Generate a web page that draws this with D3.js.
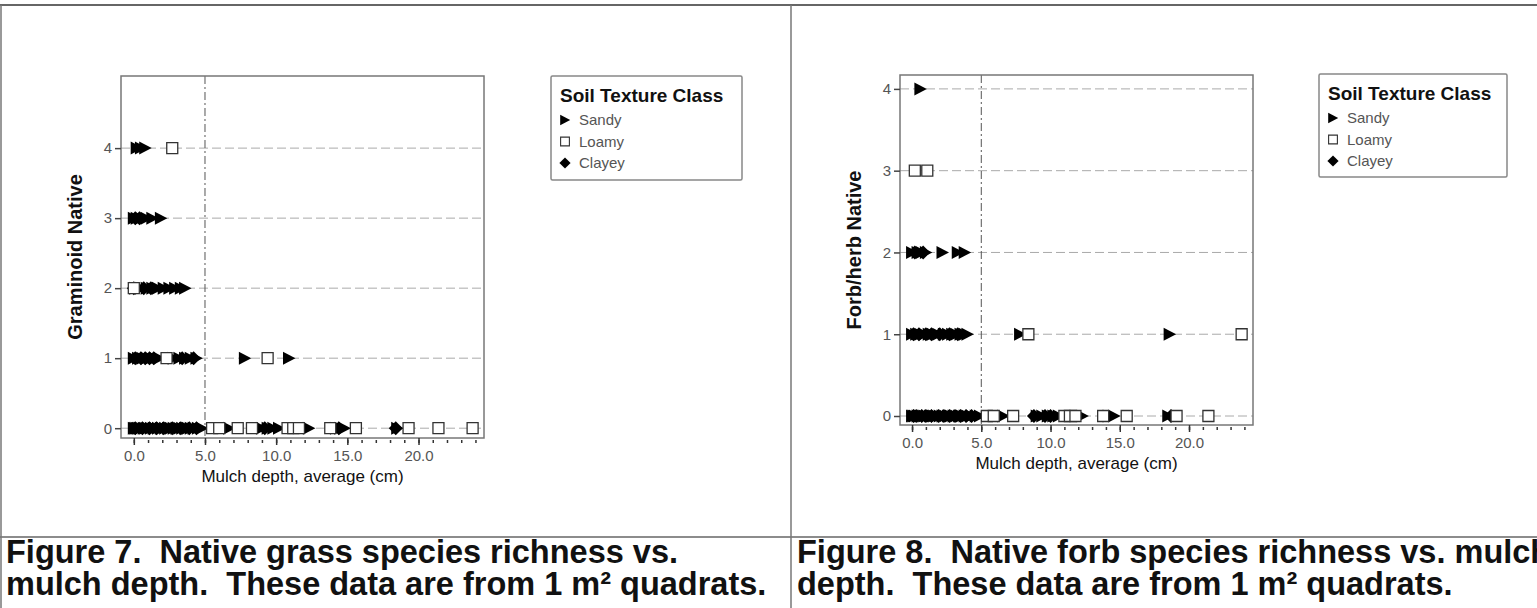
<!DOCTYPE html>
<html>
<head>
<meta charset="utf-8">
<script src="https://cdn.jsdelivr.net/npm/d3@7/dist/d3.min.js"></script>
<style>
  body { margin: 0; background: #fff; }
  svg { display: block; }
  text { font-family: "Liberation Sans", Arial, sans-serif; white-space: pre; }
</style>
</head>
<body>
<svg width="1537" height="608"></svg>
<script>
// mulch depth (cm) per quadrat, one inner list per richness count (index 0..4)
var fig7Sandy = [
  [0.0, 0.1, 0.2, 0.3, 0.4, 0.5, 0.7, 0.8, 1.0, 1.2, 1.4, 1.5, 1.7, 1.9, 2.0, 2.2, 2.4, 2.6, 2.8, 3.0, 3.2, 3.4, 3.6, 3.8, 4.0, 4.2, 4.5, 4.8, 6.7, 9.0, 9.4, 9.8, 10.2, 12.3, 14.2, 14.5, 14.8, 18.5],
  [0.0, 0.3, 0.6, 0.9, 1.2, 1.5, 1.8, 2.8, 3.2, 3.6, 4.0, 4.4, 7.8, 10.9],
  [0.1, 0.5, 0.9, 1.3, 1.7, 2.1, 2.5, 2.9, 3.3, 3.6],
  [0.0, 0.2, 0.5, 0.9, 1.3, 1.9],
  [0.2, 0.5, 0.8]
];
var fig7Loamy = [
  [5.5, 6.0, 7.3, 8.3, 10.8, 11.2, 11.6, 13.8, 15.6, 19.3, 21.4, 23.8],
  [2.3, 9.4],
  [0.0],
  [],
  [2.7]
];
var fig7Clayey = [
  [0.1, 0.6, 1.1, 1.6, 2.1, 2.7, 3.3, 3.9, 4.4, 9.2, 14.4, 18.4],
  [0.1, 0.5, 0.8, 1.1, 1.4, 3.4, 4.2],
  [0.0, 0.7, 1.2],
  [0.1, 0.4],
  []
];

var fig8Sandy = [
  [0.0, 0.1, 0.2, 0.4, 0.5, 0.6, 0.8, 0.9, 1.1, 1.3, 1.5, 1.6, 1.8, 2.0, 2.2, 2.4, 2.6, 2.8, 3.0, 3.2, 3.4, 3.6, 3.8, 4.0, 4.3, 4.6, 4.9, 6.6, 9.0, 9.4, 9.8, 10.2, 10.6, 12.3, 14.2, 14.6, 18.5],
  [0.0, 0.3, 0.6, 0.9, 1.2, 1.5, 1.9, 2.3, 2.6, 2.9, 3.2, 3.5, 3.8, 4.0, 7.8, 18.6],
  [0.0, 0.4, 0.7, 1.0, 2.2, 3.3, 3.8],
  [],
  [0.6]
];
var fig8Loamy = [
  [5.4, 5.9, 7.3, 11.0, 11.4, 11.8, 13.8, 15.5, 19.1, 21.4],
  [8.4, 23.8],
  [],
  [0.2, 1.1],
  []
];
var fig8Clayey = [
  [0.1, 0.3, 0.7, 1.0, 1.4, 1.9, 2.3, 2.7, 3.1, 3.5, 3.9, 4.3, 8.8, 9.6, 10.0, 18.7],
  [0.1, 0.5, 1.0, 1.4, 2.0, 2.7, 3.3],
  [0.2, 0.8],
  [],
  []
];

var xTicks = [0, 5, 10, 15, 20];
var xMinorTicks = d3.range(0, 25);
var yTicks = [0, 1, 2, 3, 4];
var refMulch = 5;
var legendTitle = "Soil Texture Class";
var classNames = ["Sandy", "Loamy", "Clayey"];

var svg = d3.select("svg");

var shapes = {
  Sandy: "M-6,-6.5L6.5,0L-6,6.5Z",
  Clayey: "M0,-7L7,0L0,7L-7,0Z",
  Loamy: "M-5.5,-5.5H5.5V5.5H-5.5Z"
};

function flatten(rows) {
  var out = [];
  rows.forEach(function(r, i) { r.forEach(function(v) { out.push([v, i]); }); });
  return out;
}

function drawPanel(p) {
  var x = d3.scaleLinear().domain(p.xDomain).range([p.left, p.right]);
  var y = d3.scaleLinear().domain(p.yDomain).range([p.bottom, p.top]);
  var g = svg.append("g");

  // grid
  g.selectAll(".hgrid").data(yTicks).enter().append("line")
    .attr("x1", p.left).attr("x2", p.right)
    .attr("y1", function(d) { return y(d); }).attr("y2", function(d) { return y(d); })
    .attr("stroke", "#aaa").attr("stroke-width", 1).attr("stroke-dasharray", "9,4");
  g.append("line")
    .attr("x1", x(refMulch)).attr("x2", x(refMulch))
    .attr("y1", p.top).attr("y2", p.bottom)
    .attr("stroke", "#555").attr("stroke-width", 1).attr("stroke-dasharray", "8,3,2,3");

  // frame
  g.append("rect")
    .attr("x", p.left).attr("y", p.top)
    .attr("width", p.right - p.left).attr("height", p.bottom - p.top)
    .attr("fill", "none").attr("stroke", "#777").attr("stroke-width", 1.5);

  // y axis
  var yAxis = d3.axisLeft(y).tickValues(yTicks).tickFormat(d3.format("d")).tickSize(6).tickPadding(3);
  var ya = g.append("g").attr("transform", "translate(" + p.left + ",0)").call(yAxis);
  ya.select(".domain").remove();
  ya.selectAll("line").attr("stroke", "#444").attr("stroke-width", 1.5);
  ya.selectAll("text").attr("font-size", 15).attr("fill", "#555")
    .attr("font-family", '"Liberation Sans", Arial, sans-serif');

  // x axis: minor then major ticks
  var xm = d3.axisBottom(x).tickValues(xMinorTicks).tickFormat("").tickSize(3);
  var xma = g.append("g").attr("transform", "translate(0," + (p.bottom + 2) + ")").call(xm);
  xma.select(".domain").remove();
  xma.selectAll("line").attr("stroke", "#333").attr("stroke-width", 1.5);
  var xAxis = d3.axisBottom(x).tickValues(xTicks).tickFormat(d3.format(".1f")).tickSize(7).tickPadding(5);
  var xa = g.append("g").attr("transform", "translate(0," + p.bottom + ")").call(xAxis);
  xa.select(".domain").remove();
  xa.selectAll("line").attr("stroke", "#333").attr("stroke-width", 1.5);
  xa.selectAll("text").attr("font-size", 15).attr("fill", "#555")
    .attr("font-family", '"Liberation Sans", Arial, sans-serif');

  // axis titles
  g.append("text")
    .attr("x", (p.left + p.right) / 2).attr("y", p.bottom + 44)
    .attr("text-anchor", "middle").attr("font-size", 17).attr("fill", "#111")
    .text("Mulch depth, average (cm)");
  g.append("text")
    .attr("transform", "translate(" + (p.left - 39) + "," + ((p.top + p.bottom) / 2) + ") rotate(-90)")
    .attr("text-anchor", "middle").attr("font-size", 20).attr("font-weight", "bold").attr("fill", "#111")
    .text(p.yLabel);

  // points: sandy, clayey, then loamy on top
  [["Sandy", p.sandy], ["Clayey", p.clayey], ["Loamy", p.loamy]].forEach(function(s) {
    g.selectAll(".pt" + s[0]).data(flatten(s[1])).enter().append("path")
      .attr("d", shapes[s[0]])
      .attr("transform", function(d) { return "translate(" + x(d[0]) + "," + y(d[1]) + ")"; })
      .attr("fill", s[0] === "Loamy" ? "#fff" : "#000")
      .attr("stroke", s[0] === "Loamy" ? "#333" : "none")
      .attr("stroke-width", 1.3);
  });

  // legend
  var lg = g.append("g").attr("transform", "translate(" + p.legX + "," + p.legY + ")");
  lg.append("rect").attr("width", p.legW).attr("height", p.legH)
    .attr("fill", "#fff").attr("stroke", "#888").attr("stroke-width", 1.5).attr("rx", 1.5);
  lg.append("text").attr("x", 9).attr("y", 26).attr("font-size", 19).attr("font-weight", "bold")
    .attr("fill", "#111").text(legendTitle);
  classNames.forEach(function(c, i) {
    var cy = 44 + i * 21.5;
    lg.append("path").attr("d", shapes[c])
      .attr("transform", "translate(14," + cy + ") scale(0.8)")
      .attr("fill", c === "Loamy" ? "#fff" : "#000")
      .attr("stroke", c === "Loamy" ? "#333" : "none").attr("stroke-width", 1.4);
    lg.append("text").attr("x", 28).attr("y", cy + 5).attr("font-size", 15).attr("fill", "#555").text(c);
  });

  // caption
  p.caption.forEach(function(line, i) {
    svg.append("text").attr("x", p.capX).attr("y", 563 + i * 32)
      .attr("font-size", 32.5).attr("font-weight", "bold").attr("fill", "#111").text(line);
  });
}

// table borders
svg.append("line").attr("x1", 0).attr("x2", 1537).attr("y1", 5).attr("y2", 5).attr("stroke", "#666").attr("stroke-width", 2);
svg.append("line").attr("x1", 0).attr("x2", 1537).attr("y1", 537).attr("y2", 537).attr("stroke", "#666").attr("stroke-width", 1.5);
svg.append("line").attr("x1", 1).attr("x2", 1).attr("y1", 5).attr("y2", 608).attr("stroke", "#777").attr("stroke-width", 1.5);
svg.append("line").attr("x1", 791).attr("x2", 791).attr("y1", 5).attr("y2", 608).attr("stroke", "#777").attr("stroke-width", 1.5);

drawPanel({
  left: 121, right: 484, top: 76, bottom: 438,
  xDomain: [-0.9, 24.6], yDomain: [-0.14, 5.03],
  yLabel: "Graminoid Native",
  sandy: fig7Sandy, loamy: fig7Loamy, clayey: fig7Clayey,
  legX: 551, legY: 76, legW: 191, legH: 104,
  capX: 6,
  caption: ["Figure 7.  Native grass species richness vs.", "mulch depth.  These data are from 1 m\u00b2 quadrats."]
});

drawPanel({
  left: 900, right: 1253, top: 75, bottom: 425,
  xDomain: [-0.87, 24.62], yDomain: [-0.11, 4.17],
  yLabel: "Forb/herb Native",
  sandy: fig8Sandy, loamy: fig8Loamy, clayey: fig8Clayey,
  legX: 1319, legY: 74, legW: 188, legH: 103,
  capX: 797,
  caption: ["Figure 8.  Native forb species richness vs. mulch", "depth.  These data are from 1 m\u00b2 quadrats."]
});
</script>
</body>
</html>
